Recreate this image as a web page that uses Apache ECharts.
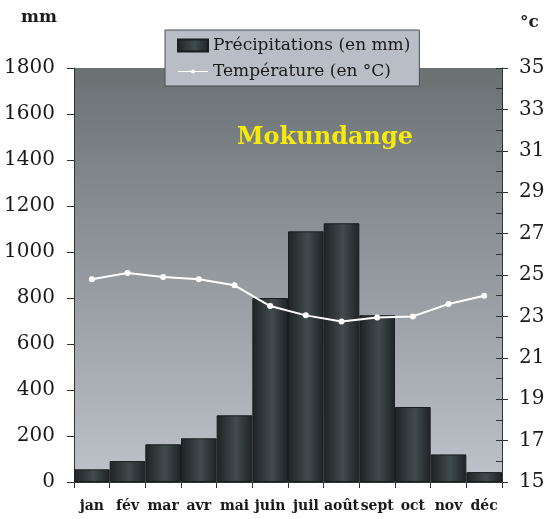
<!DOCTYPE html>
<html><head><meta charset="utf-8">
<script src="https://cdn.jsdelivr.net/npm/echarts@6/dist/echarts.min.js"></script>
<style>html,body{margin:0;padding:0;background:#fff}#c{width:551px;height:519px}</style>
</head><body><div id="c"></div>
<script>
const months = ['jan','fév','mar','avr','mai','juin','juil','août','sept','oct','nov','déc'];
const precipitation = [55, 91, 164, 190, 290, 800, 1090, 1125, 725, 326, 120, 43];
const temperature = [24.8, 25.1, 24.9, 24.8, 24.5, 23.5, 23.05, 22.75, 22.95, 23.0, 23.6, 24.0];
const precipTicks = [0, 1800, 200];
const tempTicks = [15, 35, 2];
const stationName = 'Mokundange';

const serif = 'DejaVu Serif';
const chart = echarts.init(document.getElementById('c'));
const barGrad = new echarts.graphic.LinearGradient(0, 0, 1, 0, [
  {offset: 0, color: '#1e2426'}, {offset: 0.55, color: '#414a4c'}, {offset: 1, color: '#1e2426'}
]);
const lineIcon = 'path://M0,0 L0.01,0 L0.01,0.01 Z M0,5.5 L30,5.5 L30,6.5 L0,6.5 Z M15,4 A2,2 0 1 1 15,8 A2,2 0 1 1 15,4 Z M29.99,11.99 L30,12 L29.99,12 Z';
chart.setOption({
  animation: false,
  grid: {left: 74, right: 49, top: 68, bottom: 37, show: true, borderWidth: 0,
    containLabel: false, outerBoundsMode: 'none',
    backgroundColor: new echarts.graphic.LinearGradient(0, 0, 0, 1, [
      {offset: 0, color: '#6a7173'}, {offset: 1, color: '#bec2ca'}])},
  title: {text: stationName, left: 320, top: 121, textAlign: 'center',
    textStyle: {fontFamily: serif, fontWeight: 'bold', fontSize: 24, color: '#f7ea0a'}},
  legend: {orient: 'vertical', left: 165, top: 30,
    backgroundColor: '#b9bdc5', borderColor: '#4a4d52', borderWidth: 1,
    padding: [7, 9, 6, 12], itemGap: 9, itemWidth: 30, itemHeight: 12,
    textStyle: {fontFamily: serif, fontSize: 17, color: '#1a1a1a', padding: [0,0,0,0]},
    data: [{name: 'Précipitations (en mm)', icon: 'rect'},
           {name: 'Température (en °C)', icon: lineIcon, itemStyle: {color: '#fff'}}]},
  graphic: [
    {type: 'text', left: 21, top: 9, style: {text: 'mm', font: 'bold 17px "DejaVu Serif"', fill: '#1a1a1a'}},
    {type: 'text', left: 520, top: 14, style: {text: '°c', font: 'bold 17px "DejaVu Serif"', fill: '#1a1a1a'}}
  ],
  xAxis: {type: 'category', data: months, boundaryGap: true,
    axisLine: {lineStyle: {color: '#333', width: 1}},
    axisTick: {show: true, length: 6, lineStyle: {color: '#333'}},
    axisLabel: {interval: 0, fontFamily: serif, fontWeight: 'bold', fontSize: 14, color: '#1a1a1a', margin: 17, hideOverlap: false}},
  yAxis: [
    {type: 'value', min: precipTicks[0], max: precipTicks[1], interval: precipTicks[2], position: 'left',
      splitLine: {show: false},
      axisLine: {show: true, lineStyle: {color: '#333'}},
      axisTick: {show: true, length: 7, lineStyle: {color: '#333'}},
      axisLabel: {fontFamily: serif, fontSize: 20, color: '#1a1a1a', margin: 19, formatter: v => String(v)}},
    {type: 'value', min: tempTicks[0], max: tempTicks[1], interval: tempTicks[2], position: 'right',
      splitLine: {show: false},
      axisLine: {show: true, lineStyle: {color: '#333'}},
      axisTick: {show: true, length: 6, lineStyle: {color: '#333'}},
      axisLabel: {fontFamily: serif, fontSize: 20, color: '#1a1a1a', margin: 17}},
    {type: 'value', min: tempTicks[0], max: tempTicks[1], interval: 1, position: 'right',
      splitLine: {show: false}, axisLine: {show: false},
      axisTick: {show: true, inside: true, length: 6, lineStyle: {color: '#333'}},
      axisLabel: {show: false}}
  ],
  series: [
    {name: 'Précipitations (en mm)', type: 'bar', data: precipitation, yAxisIndex: 0,
      barCategoryGap: '0%', itemStyle: {color: barGrad, borderColor: '#1a1e20', borderWidth: 1}},
    {name: 'Température (en °C)', type: 'line', data: temperature, yAxisIndex: 1,
      symbol: 'circle', symbolSize: 6, lineStyle: {color: '#fff', width: 2},
      itemStyle: {color: '#fff'}}
  ]
});
</script></body></html>
